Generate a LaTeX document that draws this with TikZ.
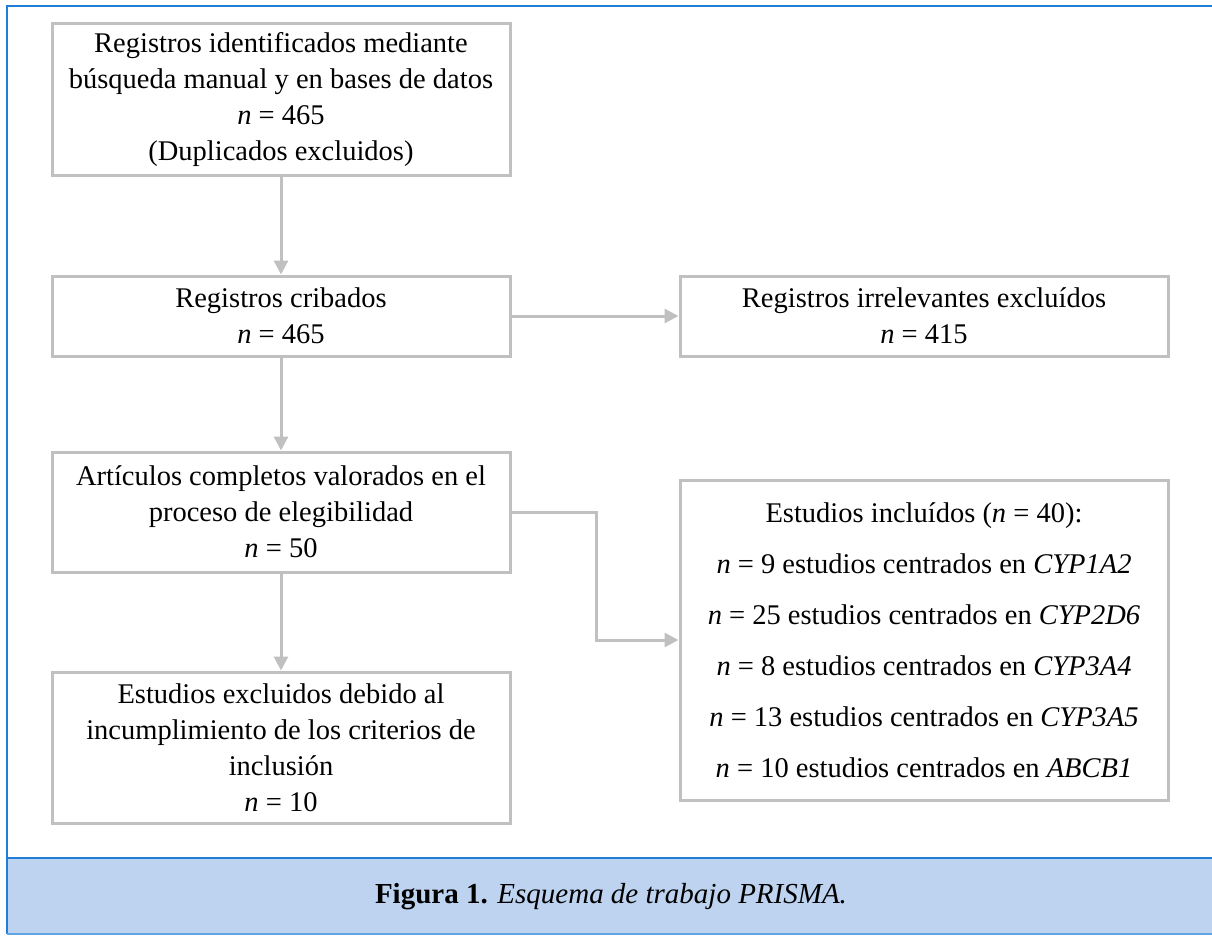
\documentclass[tikz,border=0pt]{standalone}
\usepackage{fontspec}
\setmainfont{Liberation Serif}
\usetikzlibrary{arrows.meta}
\definecolor{boxgray}{HTML}{C0C0C0}
\definecolor{frameblue}{HTML}{1F7FD8}
\definecolor{bandblue}{HTML}{BDD3F0}
\tikzset{
  box/.style={draw=boxgray, line width=3pt, minimum width=458pt, inner sep=0pt,
    align=center, font=\fontsize{28.5}{36}\selectfont, text=black},
  rbox/.style={box, minimum width=488pt},
  conn/.style={draw=boxgray, line width=3pt, -{Triangle[length=14pt,width=14pt]}},
}
\begin{document}
\begin{tikzpicture}[x=1pt,y=-1pt]
\useasboundingbox (0,0) rectangle (1212,936);
% frame and caption band
\fill[bandblue] (7,858) rectangle (1212,934);
\draw[frameblue, line width=1.8pt] (1212,6) -- (7,6) -- (7,934);
\draw[frameblue, line width=1.8pt] (7,858) -- (1212,858);
\draw[frameblue!70, line width=1.8pt] (7,934) -- (1212,934);
\node[font=\fontsize{29}{34}\selectfont] (cap) at (611,897) {\textbf{Figura 1.} \textit{Esquema de trabajo PRISMA.}};
% boxes
\node[box, minimum height=152pt] (b1) at (281,100) {Registros identificados mediante\\b\'usqueda manual y en bases de datos\\\textit{n} = 465\\(Duplicados excluidos)};
\node[box, minimum height=80pt] (b2) at (281,316) {Registros cribados\\\textit{n} = 465};
\node[box, minimum height=120pt] (b3) at (281,512) {Art\'iculos completos valorados en el\\proceso de elegibilidad\\\textit{n} = 50};
\node[box, minimum height=151pt] (b4) at (281,747.5) {Estudios excluidos debido al\\incumplimiento de los criterios de\\inclusi\'on\\\textit{n} = 10};
\node[rbox, minimum height=80pt] (r1) at (924,316) {Registros irrelevantes exclu\'idos\\\textit{n} = 415};
\node[rbox, minimum height=320pt, font=\fontsize{28.5}{51}\selectfont] (r2) at (924,640) {Estudios inclu\'idos (\textit{n} = 40):\\\textit{n} = 9 estudios centrados en \textit{CYP1A2}\\\textit{n} = 25 estudios centrados en \textit{CYP2D6}\\\textit{n} = 8 estudios centrados en \textit{CYP3A4}\\\textit{n} = 13 estudios centrados en \textit{CYP3A5}\\\textit{n} = 10 estudios centrados en \textit{ABCB1}};
% connectors
\draw[conn] (b1) -- (b2);
\draw[conn] (b2) -- (r1);
\draw[conn] (b2) -- (b3);
\draw[conn] (b3) -- (b4);
\coordinate (m1) at (596,512);
\coordinate (m2) at (596,640);
\draw[conn] (b3.east) -- (m1) -- (m2) -- (r2.west);
\end{tikzpicture}
\end{document}
